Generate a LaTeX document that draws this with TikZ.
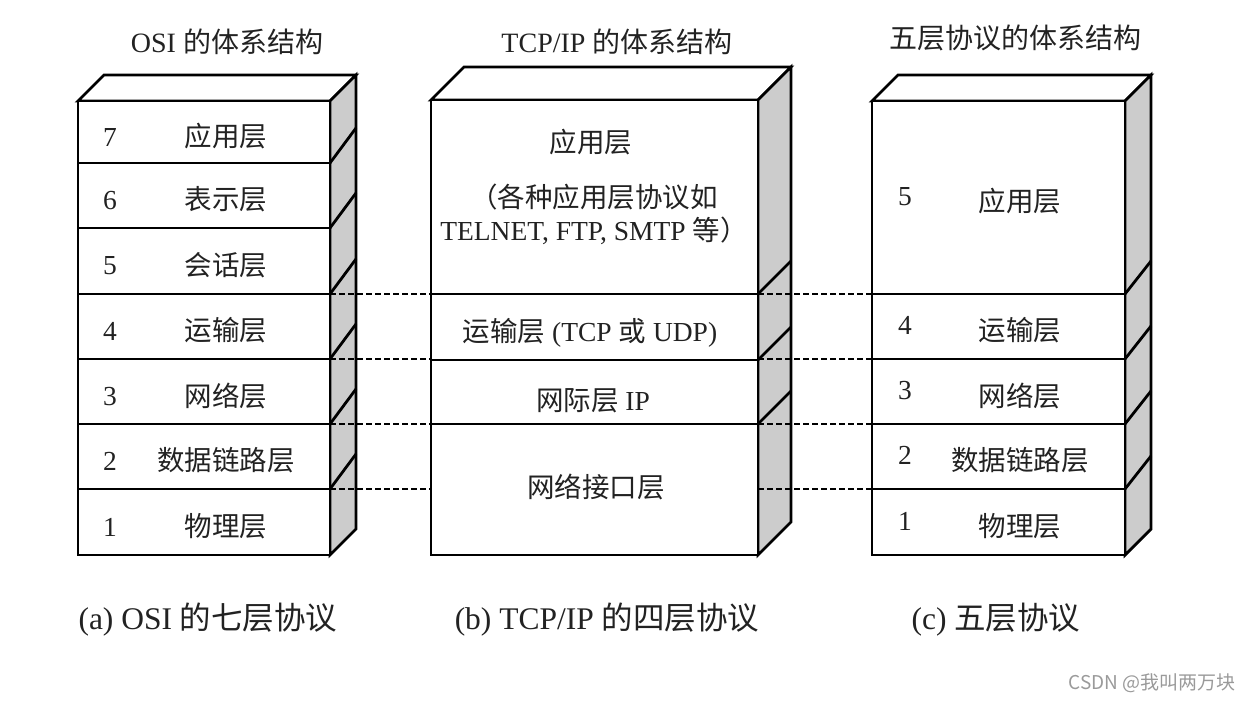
\documentclass[tikz,border=0pt]{standalone}
\usepackage{fontspec}
\setmainfont{Liberation Serif}
\newfontfamily\cjk{Noto Sans CJK SC}
\usepackage{xcolor}
\usepackage{tikz}
\definecolor{ink}{HTML}{222222}
\definecolor{sidegray}{HTML}{CCCCCC}
\definecolor{wmgray}{HTML}{9A9A9A}
\newcommand\labfont{\fontsize{27.5}{33}\selectfont}
\newcommand\headfont{\fontsize{28}{32}\selectfont}
\newcommand\capfont{\fontsize{31.5}{36}\selectfont}

\begin{document}
\begin{tikzpicture}[
  x=1pt,y=-1pt,
  face/.style={draw=black,line width=2.8pt,line join=miter,fill=white},
  layer/.style={draw=black,line width=2.8pt,fill=white,minimum width=#1,inner sep=0pt,outer sep=0pt},
  edge/.style={draw=black,line width=2.8pt},
  dashline/.style={draw=black,line width=1.9pt,dash pattern=on 6pt off 3pt},
  txt/.style={inner sep=0pt,text=ink,font=\labfont},
  head/.style={inner sep=0pt,text=ink,font=\headfont},
  caption/.style={inner sep=0pt,text=ink,font=\capfont},
  wmark/.style={inner sep=0pt,text=wmgray,font=\cjk\fontsize{19}{22}\selectfont}
]
\useasboundingbox (0,0) rectangle (1253,702);
% OSI stack
\draw[face] (78,101) -- (104,75) -- (356,75) -- (330,101) -- cycle;
\draw[face,fill=sidegray] (330,101) -- (356,75) -- (356,529) -- (330,555) -- cycle;
\foreach \n/\lab/\t/\b in {7/应用层/101/163,6/表示层/163/228,5/会话层/228/294,4/运输层/294/359,3/网络层/359/424,2/数据链路层/424/489,1/物理层/489/555}{
  \node[layer=252pt,minimum height={(\b-\t)*1pt}] (osi\n) at (204,{(\t+\b)/2}) {};
  \node[txt] (osi\n-num) at (110,{(\t+\b)/2+5}) {\n};
  \node[txt] (osi\n-lab) at (226,{(\t+\b)/2+4}) {\cjk\lab};
}
\foreach \n in {6,5,4,3,2,1}
  \draw[edge] (osi\n.north east) -- ++(26,-35);
% TCP/IP stack
\draw[face] (431,100) -- (464,67) -- (791,67) -- (758,100) -- cycle;
\draw[face,fill=sidegray] (758,100) -- (791,67) -- (791,522) -- (758,555) -- cycle;
\node[layer=327pt,minimum height=194pt] (tcpapp) at (594.5,197) {};
\node[layer=327pt,minimum height=66pt] (tcptrans) at (594.5,327) {};
\node[layer=327pt,minimum height=64pt] (tcpnet) at (594.5,392) {};
\node[layer=327pt,minimum height=131pt] (tcpif) at (594.5,489.5) {};
\node[txt] (tcpapp-lab) at (591,142) {\cjk 应用层};
\node[txt,align=center] (tcpapp-note) at (594,214) {{\cjk （各种应用层协议如}\\TELNET, FTP, SMTP {\cjk 等）}};
\node[txt] (tcptrans-lab) at (590,333) {{\cjk 运输层} (TCP {\cjk 或} UDP)};
\node[txt] (tcpnet-lab) at (593,401) {{\cjk 网际层} IP};
\node[txt] (tcpif-lab) at (596,487) {\cjk 网络接口层};
\foreach \n in {tcptrans,tcpnet,tcpif}
  \draw[edge] (\n.north east) -- ++(33,-33);
% five-layer stack
\draw[face] (872,101) -- (898,75) -- (1151,75) -- (1125,101) -- cycle;
\draw[face,fill=sidegray] (1125,101) -- (1151,75) -- (1151,529) -- (1125,555) -- cycle;
\foreach \n/\lab/\t/\b in {5/应用层/101/294,4/运输层/294/359,3/网络层/359/424,2/数据链路层/424/489,1/物理层/489/555}{
  \node[layer=253pt,minimum height={(\b-\t)*1pt}] (five\n) at (998.5,{(\t+\b)/2}) {};
  \node[txt] (five\n-num) at (905,{(\t+\b)/2-1}) {\n};
  \node[txt] (five\n-lab) at (1020,{(\t+\b)/2+4}) {\cjk\lab};
}
\foreach \n in {4,3,2,1}
  \draw[edge] (five\n.north east) -- ++(26,-33);
% dashed correspondences
\foreach \n in {4,3,2,1}{
  \draw[dashline] (osi\n.north east) -- (osi\n.north east -| tcpif.west);
  \draw[dashline] (five\n.north west -| tcpif.east) -- (five\n.north west);
}
% headings and captions
\node[head] (osi-head) at (227,42) {OSI {\cjk 的体系结构}};
\node[head] (tcp-head) at (617,42) {TCP/IP {\cjk 的体系结构}};
\node[head] (five-head) at (1015,38) {\cjk 五层协议的体系结构};
\node[caption] (osi-cap) at (208,620) {(a) OSI {\cjk 的七层协议}};
\node[caption] (tcp-cap) at (607,620) {(b) TCP/IP {\cjk 的四层协议}};
\node[caption] (five-cap) at (996,620) {(c) {\cjk 五层协议}};
\node[wmark] (wm) at (1152,683) {CSDN @我叫两万块};
\end{tikzpicture}
\end{document}
